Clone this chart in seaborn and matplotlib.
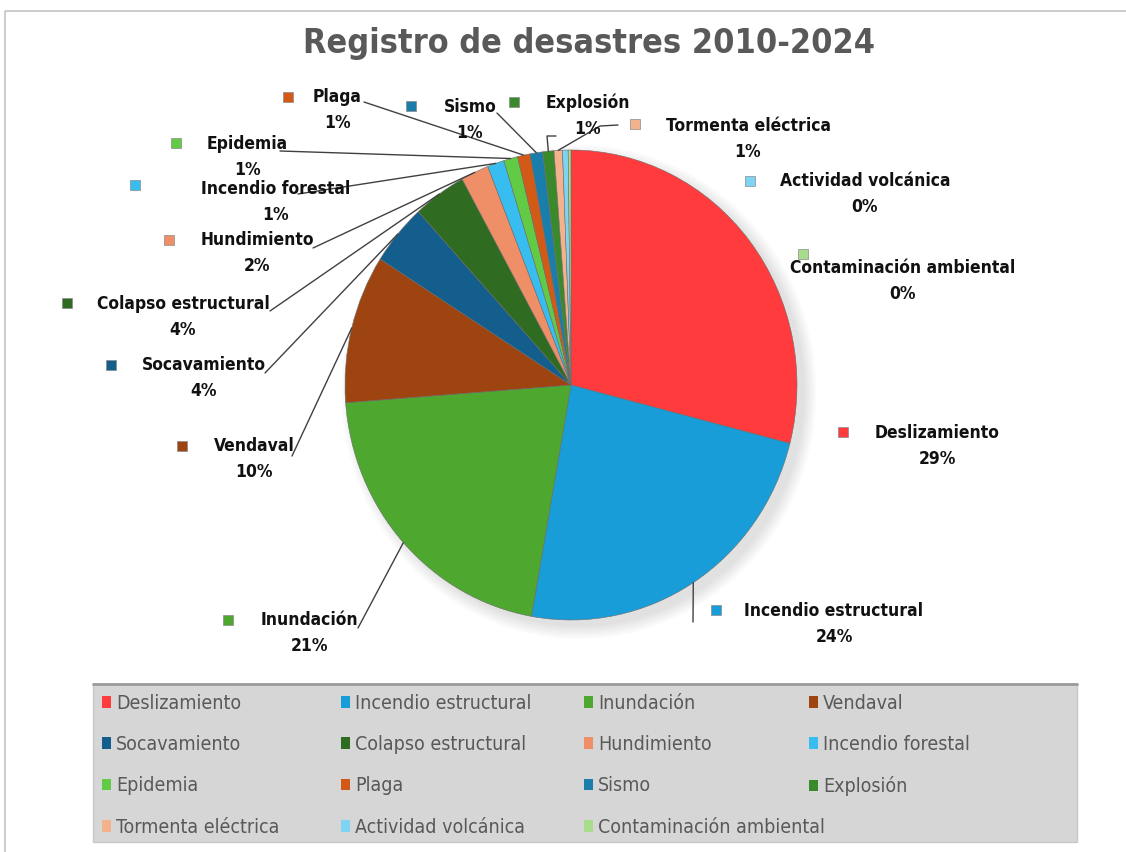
import numpy as np
import seaborn as sns
import matplotlib.pyplot as plt
from matplotlib import font_manager
from matplotlib.patches import Patch, Rectangle, Ellipse

# Datos (porcentajes)
categorias = ['Deslizamiento', 'Incendio estructural', 'Inundación', 'Vendaval',
              'Socavamiento', 'Colapso estructural', 'Hundimiento', 'Incendio forestal',
              'Epidemia', 'Plaga', 'Sismo', 'Explosión', 'Tormenta eléctrica',
              'Actividad volcánica', 'Contaminación ambiental']
valores = [29.0, 23.8, 21.0, 10.2, 4.2, 3.8, 2.0, 1.2, 1.0, 0.9, 0.9, 0.8, 0.6, 0.4, 0.2]
colores = ['#FF3B3D', '#189DD8', '#4EA72E', '#9E4410', '#135E8C', '#2F6B20', '#EE8F67',
           '#38BDF0', '#62CB45', '#D25A16', '#1A7DAA', '#3A8A2B', '#F4B28C', '#7FD4F4', '#A7DC8C']

# Posiciones de las etiquetas (pixeles): centro del nombre, y del nombre, marcador
pos_etiquetas = {
    'Deslizamiento': (937, 433, 843, 432),
    'Incendio estructural': (834, 611, 716, 610),
    'Inundación': (309, 620, 228, 620),
    'Vendaval': (254, 446, 182, 446),
    'Socavamiento': (204, 365, 111, 365),
    'Colapso estructural': (183, 304, 67, 303),
    'Hundimiento': (257, 240, 169, 240),
    'Incendio forestal': (276, 189, 135, 185),
    'Epidemia': (247, 144, 176, 143),
    'Plaga': (337, 97, 288, 97),
    'Sismo': (470, 107, 411, 106),
    'Explosión': (588, 103, 514, 102),
    'Tormenta eléctrica': (748, 126, 635, 124),
    'Actividad volcánica': (865, 181, 750, 181),
    'Contaminación ambiental': (903, 268, 803, 254),
}
# Inicio de las líneas guía (lado de la etiqueta)
inicio_lineas = {
    'Incendio estructural': [(693, 622)],
    'Inundación': [(358, 628)],
    'Vendaval': [(292, 456)],
    'Socavamiento': [(265, 373)],
    'Colapso estructural': [(270, 311)],
    'Hundimiento': [(313, 248)],
    'Incendio forestal': [(298, 194)],
    'Epidemia': [(280, 151)],
    'Plaga': [(364, 102)],
    'Sismo': [(497, 113)],
    'Explosión': [(556, 136), (547, 136)],
    'Tormenta eléctrica': [(618, 125), (600, 126)],
}

sns.set_theme(style='white')

# Buscar una fuente estrecha; si no hay, usar Liberation Sans con tamaños menores
estrechas = [f for f in font_manager.fontManager.ttflist
             if 'Narrow' in f.name or 'Condensed' in f.name
             or str(f.stretch) in ('condensed', 'semi-condensed', 'extra-condensed')]
if estrechas:
    fuente, estiramiento, escala = estrechas[0].name, estrechas[0].stretch, 1.0
else:
    fuente, estiramiento, escala = 'Liberation Sans', 'normal', 0.86
plt.rcParams['font.family'] = [fuente, 'DejaVu Sans']
plt.rcParams['font.stretch'] = estiramiento

W, H = 1126, 852
fig = plt.figure(figsize=(W / 100, H / 100), dpi=100)
fig.patch.set_facecolor('white')

# Eje del pastel: centro (571, 385), rx 226, ry 235
cx, cy, rx, ry = 571, 385, 226, 235
ax_pie = fig.add_axes([(cx - rx) / W, (H - cy - ry) / H, 2 * rx / W, 2 * ry / H])
paleta = sns.color_palette(colores)
for k in range(6):
    ax_pie.add_patch(Ellipse((0.035, -0.03), 2.0 + 0.02 * k, 2.0 + 0.02 * k,
                             facecolor='black', alpha=0.02, edgecolor='none',
                             zorder=0, clip_on=False))
wedges, _ = ax_pie.pie(valores, colors=paleta, startangle=90, counterclock=False,
                       wedgeprops=dict(edgecolor='#6b6b6b', linewidth=0.4))
ax_pie.set_aspect('auto')
ax_pie.set_xlim(-1, 1)
ax_pie.set_ylim(-1, 1)
ax_pie.axis('off')

# Eje de superposición en coordenadas de pixeles
ax = fig.add_axes([0, 0, 1, 1])
ax.set_xlim(0, W)
ax.set_ylim(H, 0)
ax.axis('off')

# Marco del área del gráfico
ax.add_patch(Rectangle((5, 11), W, H, fill=False, edgecolor='#c4c4c4', linewidth=1.2))

ax.text(589, 43, 'Registro de desastres 2010-2024', ha='center', va='center',
        fontsize=24.5 * escala, fontweight='bold', color='#595959')

total = sum(valores)
to_px = ax.transData.inverted()
for w, nombre, v, c in zip(wedges, categorias, valores, paleta):
    xn, yn, xm, ym = pos_etiquetas[nombre]
    ax.text(xn, yn, nombre, ha='center', va='center', fontsize=12.5 * escala,
            fontweight='bold', color='#111111')
    ax.text(xn, yn + 26, f'{v / total * 100:.0f}%', ha='center', va='center',
            fontsize=12.5 * escala, fontweight='bold', color='#111111')
    ax.add_patch(Rectangle((xm - 5, ym - 5), 10, 10, facecolor=c, edgecolor='#8a8a8a', linewidth=0.5))
    if nombre in inicio_lineas:
        ang = np.deg2rad((w.theta1 + w.theta2) / 2)
        fin = to_px.transform(ax_pie.transData.transform((np.cos(ang), np.sin(ang))))
        puntos = inicio_lineas[nombre] + [tuple(fin)]
        xs, ys = zip(*puntos)
        ax.plot(xs, ys, color='#404040', linewidth=1)

# Leyenda inferior (una leyenda por columna)
ax.add_patch(Rectangle((93, 684), 984, 158, facecolor='#D6D6D6', edgecolor='#c8c8c8', linewidth=1))
ax.plot([93, 1077], [684, 684], color='#9a9a9a', linewidth=2)
col_x = [88, 327, 570, 795]
for j in range(4):
    handles = [Patch(facecolor=paleta[i], edgecolor='none', label=categorias[i])
               for i in range(j, len(categorias), 4)]
    leg = ax.legend(handles=handles, loc='upper left', bbox_to_anchor=(col_x[j], 680),
                    bbox_transform=ax.transData, frameon=False, fontsize=14 * escala,
                    labelcolor='#595959', handlelength=0.5, handleheight=0.55,
                    handletextpad=0.25, labelspacing=1.15, borderpad=0.2)
    if j < 3:
        ax.add_artist(leg)

fig.savefig('out.png', dpi=100)
